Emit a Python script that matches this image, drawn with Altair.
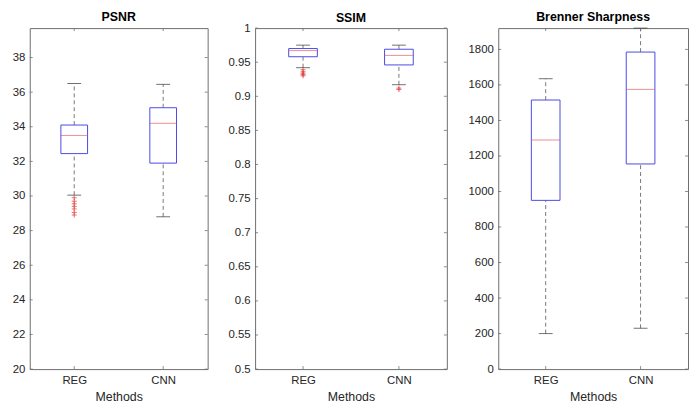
import altair as alt
import pandas as pd

methods = ["REG", "CNN"]

psnr_q1 = [32.45, 31.9]
psnr_med = [33.5, 34.2]
psnr_q3 = [34.1, 35.1]
psnr_lo = [30.05, 28.8]
psnr_hi = [36.5, 36.45]
psnr_out_method = ["REG"] * 7
psnr_out_val = [29.9, 29.7, 29.55, 29.4, 29.25, 29.05, 28.9]

ssim_q1 = [0.958, 0.946]
ssim_med = [0.967, 0.960]
ssim_q3 = [0.970, 0.969]
ssim_lo = [0.942, 0.917]
ssim_hi = [0.975, 0.975]
ssim_out_method = ["REG"] * 5 + ["CNN"] * 2
ssim_out_val = [0.939, 0.936, 0.934, 0.932, 0.930, 0.912, 0.910]

bren_q1 = [950, 1155]
bren_med = [1290, 1575]
bren_q3 = [1515, 1785]
bren_lo = [200, 230]
bren_hi = [1635, 1920]
bren_out_method = []
bren_out_val = []

FONT = "Liberation Sans"
FRAME = "#6e6e6e"
TXT = "#262626"


def panel(title, q1, med, q3, lo, hi, om, ov, domain, ticks, width, height, extent, fmt, boxw, toff):
    stats = pd.DataFrame({"m": methods, "q1": q1, "med": med, "q3": q3, "lo": lo, "hi": hi})
    outs = pd.DataFrame({"m": om, "v": ov})
    tk = pd.DataFrame({"t": ticks})
    xs = alt.Scale(type="point", domain=methods, padding=0.5)
    ys = alt.Scale(domain=domain, nice=False, zero=False)
    xaxis = alt.Axis(title="Methods", labelAngle=0, domain=False, ticks=False,
                     labelPadding=6, titlePadding=4, labelFontSize=11.5,
                     titleFontSize=12.5, labelColor=TXT, titleColor=TXT,
                     labelFont=FONT, titleFont=FONT, titleFontWeight="normal",
                     labelOverlap=False)
    yaxis = alt.Axis(title=None, values=ticks, format=fmt, domain=False, ticks=False, grid=False,
                     labelPadding=5, labelFontSize=11.5, labelColor=TXT, labelFont=FONT,
                     labelOverlap=False, minExtent=extent, maxExtent=extent)

    def X():
        return alt.X("m:N", scale=xs, sort=methods, axis=xaxis)

    def Y(f):
        return alt.Y(f, scale=ys, axis=yaxis)

    base = alt.Chart(stats)
    whisk_up = base.mark_rule(color="#555555", strokeDash=[4, 3], strokeWidth=0.8).encode(
        x=X(), y=Y("q3:Q"), y2="hi:Q")
    whisk_dn = base.mark_rule(color="#555555", strokeDash=[4, 3], strokeWidth=0.8).encode(
        x=X(), y=Y("lo:Q"), y2="q1:Q")
    cap_hi = base.mark_tick(color="#333333", size=14, thickness=1).encode(x=X(), y=Y("hi:Q"))
    cap_lo = base.mark_tick(color="#333333", size=14, thickness=1).encode(x=X(), y=Y("lo:Q"))
    box = base.mark_bar(fill="white", stroke="#4a4ae6", strokeWidth=1, size=boxw).encode(
        x=X(), y=Y("q1:Q"), y2="q3:Q")
    median = base.mark_tick(color="#e06060", size=boxw, thickness=1).encode(x=X(), y=Y("med:Q"))
    layers = [whisk_up, whisk_dn, cap_hi, cap_lo, box, median]
    if len(om):
        pts = alt.Chart(outs).mark_point(shape="M-1,0H1M0,-1V1", size=25, filled=False,
                                         color="#e03030", strokeWidth=1).encode(
            x=X(), y=Y("v:Q"))
        layers.append(pts)
    # inward tick marks on left/right/top/bottom
    tl = alt.Chart(tk).mark_rule(color=FRAME, strokeWidth=0.8).encode(
        x=alt.value(0), x2=alt.value(3), y=Y("t:Q"))
    tr = alt.Chart(tk).mark_rule(color=FRAME, strokeWidth=0.8).encode(
        x=alt.value(width - 3), x2=alt.value(width), y=Y("t:Q"))
    tb = base.mark_rule(color=FRAME, strokeWidth=0.8).encode(
        x=X(), y=alt.value(height - 3), y2=alt.value(height))
    tt = base.mark_rule(color=FRAME, strokeWidth=0.8).encode(
        x=X(), y=alt.value(0), y2=alt.value(3))
    layers += [tl, tr, tb, tt]
    return alt.layer(*layers).properties(
        width=width, height=height,
        title=alt.TitleParams(title, fontSize=12.5, fontWeight="bold", font=FONT, color="black",
                              offset=toff, anchor="middle"))


H = 345
p1 = panel("PSNR", psnr_q1, psnr_med, psnr_q3, psnr_lo, psnr_hi, psnr_out_method, psnr_out_val,
           [20, 39.7], list(range(20, 39, 2)), 180, H, 21, "d", 27, 4)
p2 = panel("SSIM", ssim_q1, ssim_med, ssim_q3, ssim_lo, ssim_hi, ssim_out_method, ssim_out_val,
           [0.5, 1.0], [0.5, 0.55, 0.6, 0.65, 0.7, 0.75, 0.8, 0.85, 0.9, 0.95, 1.0], 194, H, 26, "~g", 29, -2)
p3 = panel("Brenner Sharpness", bren_q1, bren_med, bren_q3, bren_lo, bren_hi, bren_out_method, bren_out_val,
           [0, 1920], list(range(0, 1801, 200)), 192, H, 25, "d", 29, 4)

chart = alt.hconcat(p1, p2, p3, spacing=19).configure(padding=0).configure_view(
    stroke=FRAME, strokeWidth=1).configure_axis(labelOverlap=False).resolve_scale(
    y="independent", x="independent")

chart.save("out.html", embed_options={"renderer": "svg", "actions": False})
